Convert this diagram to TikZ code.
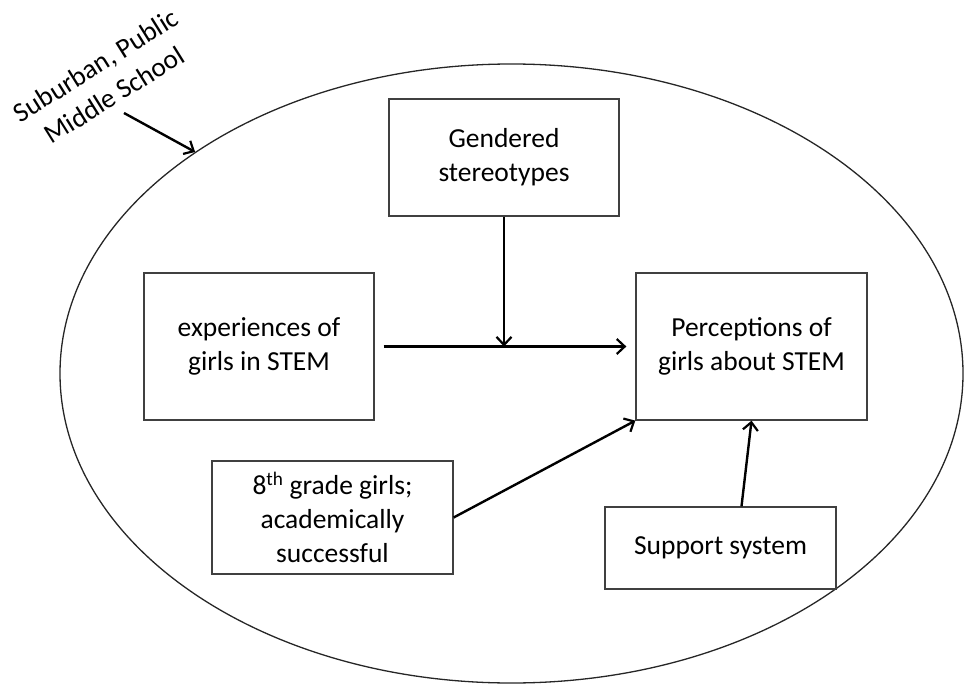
\documentclass[tikz,border=0pt]{standalone}
\usepackage{fontspec}
\setmainfont{Carlito}
\usetikzlibrary{shapes.geometric,arrows.meta}
\begin{document}
\begin{tikzpicture}[x=1pt,y=-1pt,
  box/.style={draw=black!75,line width=1.3pt,align=center,inner sep=0pt,
    font=\fontsize{27.5}{34}\selectfont},
  conn/.style={line width=2.4pt,-{Straight Barb[length=8pt,width=15pt,line width=2.2pt]}},
  lbl/.style={align=center,inner sep=0pt,font=\fontsize{27.5}{35}\selectfont}]
\useasboundingbox (0,0) rectangle (964,685);
\node[draw=black!85,line width=1.3pt,ellipse,minimum width=903pt,minimum height=619pt,inner sep=0pt] (school) at (511.5,373.5) {};
\node[box,minimum width=230pt,minimum height=117pt] (gen) at (504,157.5) {Gendered\\stereotypes};
\node[box,minimum width=230pt,minimum height=147pt] (exp) at (259,346.5) {experiences of\\girls in STEM};
\node[box,minimum width=231pt,minimum height=147pt] (perc) at (751.5,346.5) {Perceptions of\\girls about STEM};
\node[box,minimum width=241pt,minimum height=113pt] (grade) at (332.5,517.5) {8\textsuperscript{th} grade girls;\\academically\\successful};
\node[box,minimum width=231pt,minimum height=82pt] (sup) at (720.5,548) {Support system};
\node[lbl,rotate=32] (lab) at (105,80) {Suburban, Public\\Middle School};
\coordinate (tail) at (124,113);
\coordinate (meet) at (gen.south |- exp.east);
\draw[conn,shorten <=9pt,shorten >=9pt] (exp.east) -- (perc.west);
\draw[conn] (gen.south) -- (meet);
\draw[conn] (grade.east) -- (perc.south west);
\draw[conn] ([xshift=21pt]sup.north) -- (perc.south);
\draw[conn] (tail) -- (school.145.6);
\end{tikzpicture}
\end{document}
